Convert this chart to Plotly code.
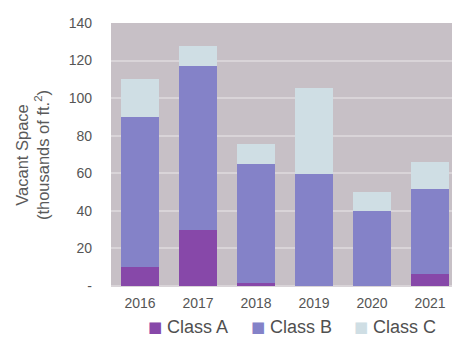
import plotly.graph_objects as go

years = ["2016", "2017", "2018", "2019", "2020", "2021"]
class_a = [10, 30, 1.5, 0, 0, 6.5]
class_b = [80, 87, 63.5, 59.5, 40, 45]
class_c = [20, 11, 10.5, 46, 10, 14.5]

series_names = ["Class A", "Class B", "Class C"]
series_values = [class_a, class_b, class_c]
series_colors = ["#8748a9", "#8482c8", "#cfdee4"]

y_ticks = [0, 20, 40, 60, 80, 100, 120, 140]
y_tick_text = ["-", "20", "40", "60", "80", "100", "120", "140"]

fig = go.Figure()
for name, vals, color in zip(series_names, series_values, series_colors):
    fig.add_trace(go.Bar(x=years, y=vals, name=name,
                         marker=dict(color=color, line=dict(width=0))))

# compact legend row under the axis: colored square + label
legend_text_x = [0.158, 0.460, 0.762]
legend_y = -0.152
for name, color, lx in zip(series_names, series_colors, legend_text_x):
    fig.add_annotation(xref="paper", yref="paper", x=lx - 0.003, y=legend_y,
                       xanchor="right", yanchor="middle", showarrow=False,
                       text="■", font=dict(size=15, color=color,
                                           family="DejaVu Sans"))
    fig.add_annotation(xref="paper", yref="paper", x=lx, y=legend_y,
                       xanchor="left", yanchor="middle", showarrow=False,
                       text=name, font=dict(size=18, color="#505050"))

fig.update_layout(
    width=452, height=341,
    barmode="stack", bargap=0.34,
    paper_bgcolor="white", plot_bgcolor="#c7c0c6",
    margin=dict(l=111, r=0, t=23, b=54),
    font=dict(family="Liberation Sans, Arial, sans-serif", color="#555555", size=14),
    showlegend=False,
    xaxis=dict(range=[-0.5, 5.38], showgrid=False, zeroline=False, ticks="",
               ticklabelstandoff=6,
               tickfont=dict(size=14, color="#555555"), fixedrange=True),
    yaxis=dict(range=[-0.6, 140], tickvals=y_ticks, ticktext=y_tick_text,
               showgrid=True, gridcolor="#d9d4d8", gridwidth=1.5, zeroline=False,
               ticks="", ticklabelstandoff=18,
               tickfont=dict(size=14, color="#555555"),
               title=dict(text="Vacant Space<br>(thousands of ft.<sup>2</sup>)",
                          font=dict(size=16.5, color="#5a5a5a"), standoff=14)),
)

fig.write_html("out.html")
